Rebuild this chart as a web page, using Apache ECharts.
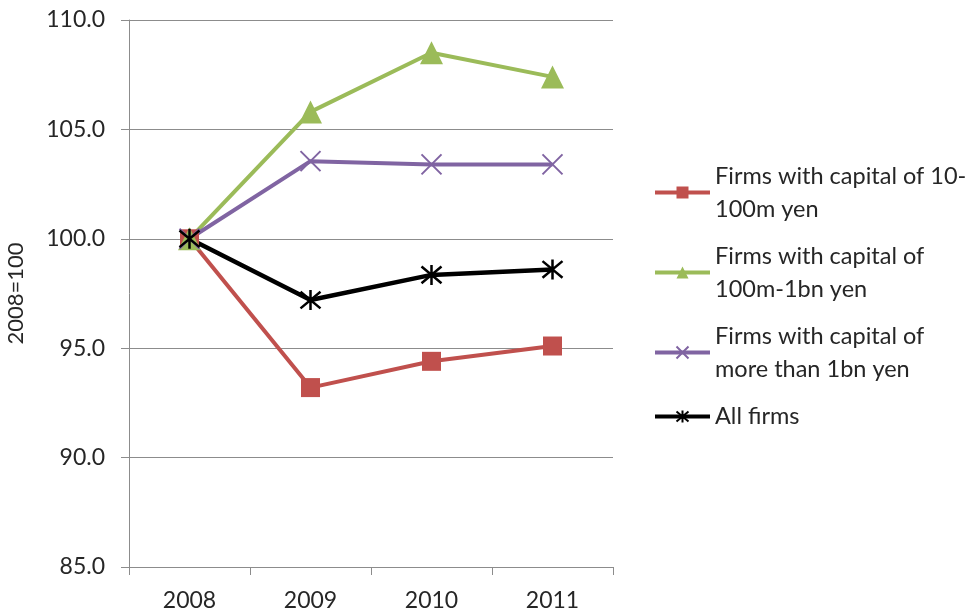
<!DOCTYPE html>
<html>
<head>
<meta charset="utf-8">
<script src="https://cdn.jsdelivr.net/npm/echarts@6/dist/echarts.min.js"></script>
<style>
  html, body { margin: 0; padding: 0; background: #ffffff; }
  #chart { width: 975px; height: 614px; }
</style>
</head>
<body>
<div id="chart"></div>
<script>
// Index of ordinary profits by firm size, 2008 = 100
const years = ['2008', '2009', '2010', '2011'];
const smallFirms = [100.0, 93.2, 94.4, 95.1];
const midFirms = [100.0, 105.8, 108.5, 107.4];
const largeFirms = [100.0, 103.55, 103.4, 103.4];
const allFirms = [100.0, 97.2, 98.35, 98.6];

const seriesNames = [
  'Firms with capital of 10-\n100m yen',
  'Firms with capital of\n100m-1bn yen',
  'Firms with capital of\nmore than 1bn yen',
  'All firms'
];

const FONT = 'Lato, "Open Sans", sans-serif';
const TEXT = '#262626';
const LINE_H = 33;

// X and asterisk markers drawn as stroked paths
const crossPath = 'path://M0 0 L10 10 M10 0 L0 10';
const starPath = 'path://M0 0 L10 10 M10 0 L0 10 M5 -1 L5 11';

function legendItem(name) {
  const lines = name.split('\n').length;
  // keep the icon level with the first text line
  const pad = lines > 1 ? [LINE_H, 0, 0, 0] : [17, 0, 17, 0];
  return { name: name, textStyle: { padding: pad } };
}

const chart = echarts.init(document.getElementById('chart'), null, { renderer: 'canvas' });

chart.setOption({
  animation: false,
  backgroundColor: '#ffffff',
  grid: { left: 129, right: 362, top: 20, bottom: 47 },
  legend: {
    orient: 'vertical',
    left: 653,
    top: 143,
    padding: 0,
    itemGap: -19,
    itemWidth: 55,
    itemHeight: 15,
    selectedMode: false,
    lineStyle: { width: 4 },
    textStyle: { fontFamily: FONT, fontSize: 23.5, color: TEXT, lineHeight: LINE_H },
    data: seriesNames.map(legendItem)
  },
  xAxis: {
    type: 'category',
    data: years,
    boundaryGap: true,
    axisLine: { lineStyle: { color: '#8c8c8c', width: 1 } },
    axisTick: { show: true, length: 8, lineStyle: { color: '#8c8c8c' } },
    axisLabel: { fontFamily: FONT, fontSize: 23, color: TEXT, margin: 22 },
    splitLine: { show: false }
  },
  yAxis: {
    type: 'value',
    min: 85,
    max: 110,
    interval: 5,
    name: '2008=100',
    nameLocation: 'middle',
    nameGap: 102,
    nameRotate: 90,
    nameTextStyle: { fontFamily: FONT, fontSize: 22, color: TEXT },
    axisLine: { show: true, lineStyle: { color: '#8c8c8c', width: 1 } },
    axisTick: { show: true, length: 8, lineStyle: { color: '#8c8c8c' } },
    axisLabel: {
      fontFamily: FONT, fontSize: 23, color: TEXT, margin: 24,
      formatter: v => v.toFixed(1)
    },
    splitLine: { lineStyle: { color: '#8c8c8c', width: 1 } }
  },
  series: [
    {
      name: seriesNames[0], type: 'line', data: smallFirms,
      symbol: 'rect', symbolSize: 19,
      lineStyle: { color: '#C0504D', width: 4 },
      itemStyle: { color: '#C0504D' }
    },
    {
      name: seriesNames[1], type: 'line', data: midFirms,
      symbol: 'triangle', symbolSize: 23,
      lineStyle: { color: '#9BBB59', width: 4 },
      itemStyle: { color: '#9BBB59' }
    },
    {
      name: seriesNames[2], type: 'line', data: largeFirms,
      symbol: crossPath, symbolSize: 20,
      lineStyle: { color: '#8064A2', width: 4 },
      itemStyle: { color: '#8064A2', borderColor: '#8064A2', borderWidth: 2 }
    },
    {
      name: seriesNames[3], type: 'line', data: allFirms,
      symbol: starPath, symbolSize: 20,
      lineStyle: { color: '#000000', width: 4.5 },
      itemStyle: { color: '#000000', borderColor: '#000000', borderWidth: 2.5 }
    }
  ]
});
</script>
</body>
</html>
